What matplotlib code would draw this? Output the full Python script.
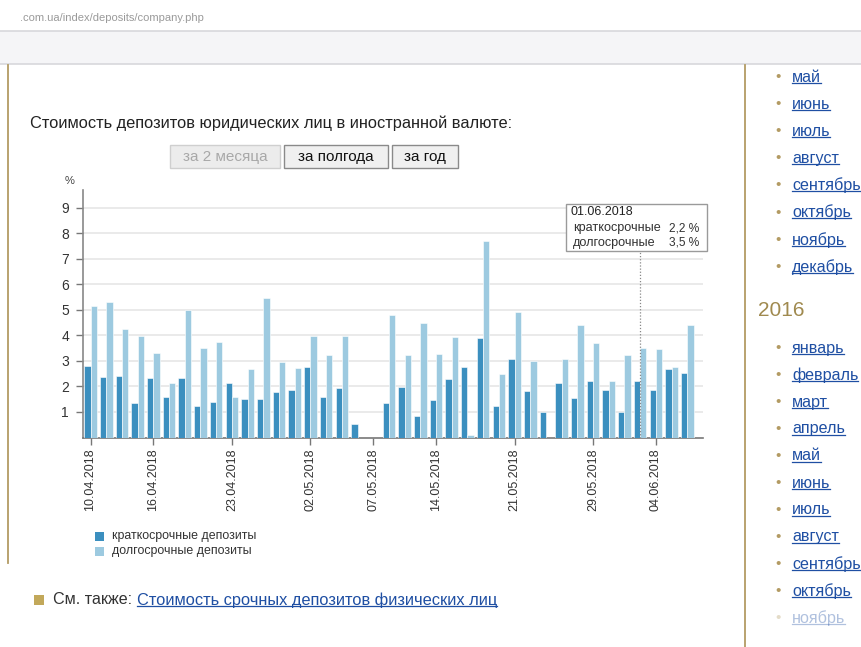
import numpy as np
import matplotlib.pyplot as plt
from matplotlib.patches import Rectangle
from matplotlib.lines import Line2D

plt.rcParams['font.family'] = ['Liberation Sans', 'DejaVu Sans']

W, H = 862, 647

DATES = ["10.04", "11.04", "12.04", "13.04", "16.04", "17.04", "18.04", "19.04",
         "20.04", "23.04", "24.04", "25.04", "26.04", "27.04", "02.05", "03.05",
         "04.05", "05.05", "07.05", "08.05", "10.05", "11.05", "14.05", "15.05",
         "16.05", "17.05", "18.05", "21.05", "22.05", "23.05", "24.05", "25.05",
         "29.05", "30.05", "31.05", "01.06", "04.06", "05.06", "06.06"]
SHORT = [2.82, 2.36, 2.41, 1.37, 2.32, 1.58, 2.32, 1.25, 1.40, 2.12,
         1.52, 1.52, 1.77, 1.85, 2.78, 1.60, 1.95, 0.52, None, 1.37,
         1.98, 0.86, 1.48, 2.31, 2.78, 3.89, 1.24, 3.07, 1.82, 0.99,
         2.15, 1.54, 2.20, 1.86, 0.99, 2.20, 1.86, 2.69, 2.52]
LONG = [5.16, 5.31, 4.24, 3.99, 3.33, 2.12, 4.99, 3.50, 3.73, 1.60,
        2.69, 5.48, 2.97, 2.73, 3.98, 3.24, 3.98, None, None, 4.82,
        3.24, 4.48, 3.29, 3.94, 0.10, 7.69, 2.49, 4.93, 2.99, None,
        3.07, 4.40, 3.71, 2.20, 3.24, 3.50, 3.48, 2.75, 4.40]
TICK_DATES = ["10.04", "16.04", "23.04", "02.05", "07.05", "14.05", "21.05", "29.05", "04.06"]
TOOLTIP_DATE = "01.06"
YEAR = "2018"

SIDEBAR_2015 = ["май", "июнь", "июль", "август", "сентябрь", "октябрь", "ноябрь", "декабрь"]
SIDEBAR_2016 = ["январь", "февраль", "март", "апрель", "май", "июнь", "июль", "август",
                "сентябрь", "октябрь", "ноябрь"]

DARK = "#3b8fbf"
LIGHT = "#9dcae0"
GOLD = "#b39b63"
LINK = "#1f4fa3"


def fx(x):
    return x / W


def fy(y):
    return 1 - y / H


fig = plt.figure(figsize=(W / 100, H / 100), dpi=100)
fig.patch.set_facecolor("white")

# --- page chrome ---------------------------------------------------------
fig.add_artist(Rectangle((0, fy(64)), 1, (64 - 31) / H, transform=fig.transFigure,
                         facecolor="#f5f5f7", edgecolor="none"))
for yy in (31, 64):
    fig.add_artist(Line2D([0, 1], [fy(yy), fy(yy)], transform=fig.transFigure,
                          color="#d8d8dc", lw=1.2))
fig.text(fx(20), fy(18), ".com.ua/index/deposits/company.php", fontsize=8,
         color="#9a9a9a", va="center", ha="left")
fig.add_artist(Line2D([fx(8), fx(8)], [fy(65), fy(563)], transform=fig.transFigure,
                      color=GOLD, lw=1.3))
fig.add_artist(Line2D([fx(745), fx(745)], [fy(65), fy(647)], transform=fig.transFigure,
                      color=GOLD, lw=1.3))

fig.text(fx(30), fy(123), "Стоимость депозитов юридических лиц в иностранной валюте:",
         fontsize=11.8, color="#222222", va="center", ha="left")

buttons = [("за 2 месяца", 170, 280, "#ececec", "#cfcfcf", "#a8a8a8"),
           ("за полгода", 284, 388, "#f0f0f0", "#8a8a8a", "#111111"),
           ("за год", 392, 458, "#f0f0f0", "#8a8a8a", "#111111")]
for label, x0, x1, fc, ec, tc in buttons:
    fig.add_artist(Rectangle((fx(x0), fy(168)), (x1 - x0) / W, 23 / H,
                             transform=fig.transFigure, facecolor=fc, edgecolor=ec, lw=1))
    fig.text(fx((x0 + x1) / 2), fy(156.5), label, fontsize=11, color=tc,
             ha="center", va="center")

# --- chart ---------------------------------------------------------------
ax = fig.add_axes([fx(83), fy(437.5), (703 - 83) / W, (437.5 - 190) / H])
bw = 0.4
for i, (s, l) in enumerate(zip(SHORT, LONG)):
    if s is not None:
        ax.bar(i - bw / 2, s, width=bw, color=DARK, edgecolor="white", linewidth=0.4, zorder=3)
    if l is not None:
        ax.bar(i + bw / 2, l, width=bw, color=LIGHT, edgecolor="white", linewidth=0.4, zorder=3)

ax.set_xlim(-0.48, 39.0)
ax.set_ylim(0, 9.7)
ax.set_yticks(range(1, 10))
ax.set_yticklabels([str(v) for v in range(1, 10)], fontsize=10, color="#333333")
ax.yaxis.grid(True, color="#e6e6e6", lw=1.2, zorder=0)
tick_pos = [DATES.index(d) for d in TICK_DATES]
ax.set_xticks(tick_pos)
ax.set_xticklabels([f"{d}.{YEAR}" for d in TICK_DATES], rotation=90, fontsize=9,
                   color="#333333")
ax.tick_params(axis="y", length=5, width=1, color="#777777", pad=5)
ax.tick_params(axis="x", length=5, width=1, color="#777777", pad=3)
for side in ("top", "right"):
    ax.spines[side].set_visible(False)
ax.spines["left"].set_color("#888888")
ax.spines["bottom"].set_color("#777777")
ax.spines["left"].set_linewidth(1.2)
ax.spines["bottom"].set_linewidth(1.2)
ax.set_facecolor("none")
fig.text(fx(70), fy(181), "%", fontsize=8, color="#444444", ha="center", va="center")

# tooltip
ti = DATES.index(TOOLTIP_DATE)
ax.plot([ti, ti], [0, 7.45], ls=(0, (1, 1.5)), color="#888888", lw=0.9, zorder=4)
fig.add_artist(Rectangle((fx(566), fy(251)), 141 / W, 47 / H, transform=fig.transFigure,
                         facecolor="white", edgecolor="#9a9a9a", lw=1, zorder=5))
fig.text(fx(571), fy(212), f"{TOOLTIP_DATE}.{YEAR}", fontsize=9, color="#222222",
         va="center", ha="left", zorder=6)
fig.text(fx(573), fy(228), "краткосрочные", fontsize=9.1, color="#333333", va="center", zorder=6)
fig.text(fx(699), fy(228), f"{SHORT[ti]:.1f} %".replace(".", ","), fontsize=8.6,
         color="#333333", va="center", ha="right", zorder=6)
fig.text(fx(573), fy(243), "долгосрочные", fontsize=9.1, color="#333333", va="center", zorder=6)
fig.text(fx(699), fy(243), f"{LONG[ti]:.1f} %".replace(".", ","), fontsize=8.6,
         color="#333333", va="center", ha="right", zorder=6)

# legend
for yy, col, lab in [(536, DARK, "краткосрочные депозиты"), (551, LIGHT, "долгосрочные депозиты")]:
    fig.add_artist(Rectangle((fx(95), fy(yy + 4.5)), 9 / W, 9 / H, transform=fig.transFigure,
                             facecolor=col, edgecolor="none"))
    fig.text(fx(112), fy(yy), lab, fontsize=8.9, color="#333333", va="center", ha="left")

# --- footer link ---------------------------------------------------------
fig.add_artist(Rectangle((fx(34), fy(605)), 10 / W, 10 / H, transform=fig.transFigure,
                         facecolor="#c2a85a", edgecolor="none"))
fig.text(fx(53), fy(600), "См. также:", fontsize=11.6, color="#333333", va="center")
links = [(fig.text(fx(137), fy(600), "Стоимость срочных депозитов физических лиц",
                   fontsize=11.8, color=LINK, va="center"), 1.0)]

# --- sidebar -------------------------------------------------------------
y = 77
for m in SIDEBAR_2015:
    fig.text(fx(778), fy(y), "•", fontsize=11, color=GOLD, va="center", ha="center")
    links.append((fig.text(fx(792), fy(y), m, fontsize=11.6, color=LINK, va="center"), 1.0))
    y += 27.1
fig.text(fx(758), fy(310), "2016", fontsize=15, color="#a08a4f", va="center")
y = 348
for k, m in enumerate(SIDEBAR_2016):
    a = 0.35 if k == len(SIDEBAR_2016) - 1 else 1.0
    fig.text(fx(778), fy(y), "•", fontsize=11, color=GOLD, va="center", ha="center", alpha=a)
    links.append((fig.text(fx(792), fy(y), m, fontsize=11.6, color=LINK, va="center", alpha=a), a))
    y += 27.0

# underline the links
fig.canvas.draw()
r = fig.canvas.get_renderer()
for t, a in links:
    bb = t.get_window_extent(r)
    y0 = bb.y0 + 2
    fig.add_artist(Line2D([bb.x0 / fig.bbox.width, bb.x1 / fig.bbox.width],
                          [y0 / fig.bbox.height, y0 / fig.bbox.height],
                          transform=fig.transFigure, color=LINK, lw=0.9, alpha=a))

fig.savefig("out.png", dpi=100)
